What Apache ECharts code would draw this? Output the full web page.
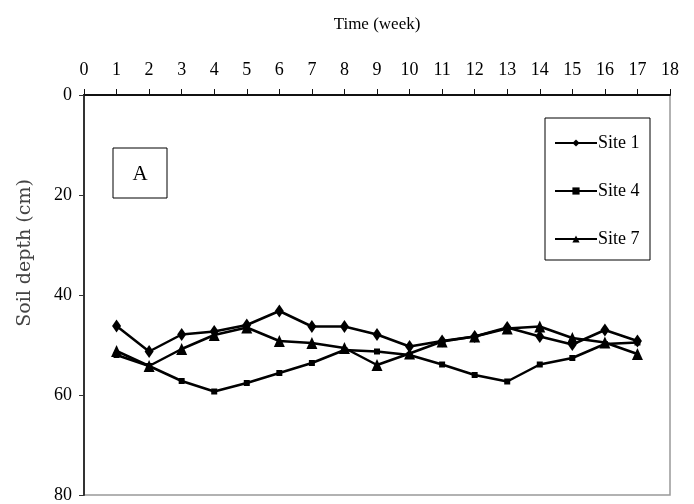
<!DOCTYPE html>
<html>
<head>
<meta charset="utf-8">
<script src="https://cdn.jsdelivr.net/npm/echarts@6/dist/echarts.min.js"></script>
<style>
html,body{margin:0;padding:0;background:#fff;}
#chart{width:694px;height:504px;}
</style>
</head>
<body>
<div id="chart"></div>
<script>
var weeks = [1,2,3,4,5,6,7,8,9,10,11,12,13,14,15,16,17];
var site1 = [46.2,51.3,47.9,47.3,46.0,43.2,46.3,46.3,47.9,50.3,49.2,48.3,46.5,48.3,49.9,47.0,49.2];
var site4 = [52.0,54.2,57.2,59.3,57.6,55.6,53.6,51.0,51.3,52.0,53.9,56.0,57.3,53.9,52.6,49.8,49.5];
var site7 = [51.2,54.2,50.8,48.0,46.5,49.2,49.6,50.6,54.0,51.7,49.3,48.3,46.7,46.3,48.6,49.5,51.8];
var seriesNames = ['Site 1','Site 4','Site 7'];
var xTitle = 'Time (week)';
var yTitle = 'Soil depth (cm)';
var panelLabel = 'A';

function pairs(v){ return weeks.map(function(w,i){ return [w, v[i]]; }); }

var chart = echarts.init(document.getElementById('chart'), null, {renderer:'canvas'});
var serif = '"Liberation Serif", "Times New Roman", serif';
chart.setOption({
  animation:false,
  backgroundColor:'#fff',
  grid:{left:84, right:24, top:95, bottom:4, show:true, borderColor:'#999', borderWidth:1.5},
  xAxis:{
    type:'value', position:'top', min:0, max:18, interval:1,
    name:xTitle, nameLocation:'middle', nameGap:62,
    nameTextStyle:{fontFamily:serif, fontSize:17, color:'#000'},
    axisLine:{show:true, lineStyle:{color:'#111', width:2}},
    axisTick:{show:true, inside:false, length:6, lineStyle:{color:'#111', width:1}},
    axisLabel:{fontFamily:serif, fontSize:18, color:'#000', margin:16},
    splitLine:{show:false}
  },
  yAxis:{
    type:'value', inverse:true, min:0, max:80, interval:20,
    axisLine:{show:true, lineStyle:{color:'#333', width:2}},
    axisTick:{show:true, inside:false, length:5, lineStyle:{color:'#333', width:1}},
    axisLabel:{fontFamily:serif, fontSize:18, color:'#000', margin:12},
    splitLine:{show:false}
  },
  legend:{
    orient:'vertical', left:554, top:134, padding:0,
    itemWidth:42, itemHeight:9, itemGap:30,
    textStyle:{fontFamily:serif, fontSize:18, color:'#000', padding:[0,0,0,-4]},
    data:seriesNames
  },
  graphic:[
    {type:'rect', shape:{x:545, y:118, width:105, height:142}, style:{fill:'none', stroke:'#000', lineWidth:1}, z:-1},
    {type:'rect', shape:{x:113, y:148, width:54, height:50}, style:{fill:'#fff', stroke:'#000', lineWidth:1}},
    {type:'text', x:140, y:174, style:{text:panelLabel, font:'21px "Liberation Serif", serif', fill:'#000', align:'center', verticalAlign:'middle'}},
    {type:'text', x:25, y:253, rotation:Math.PI/2, style:{text:yTitle, font:'19px "DejaVu Serif", serif', fill:'#444', align:'center', verticalAlign:'middle'}}
  ],
  series:[
    {name:seriesNames[0], type:'line', data:pairs(site1), symbol:'diamond', symbolSize:[9,13], color:'#000',
     lineStyle:{color:'#000', width:2.5}, itemStyle:{color:'#000'}},
    {name:seriesNames[1], type:'line', data:pairs(site4), symbol:'rect', symbolSize:6, color:'#000',
     lineStyle:{color:'#000', width:2.5}, itemStyle:{color:'#000'}},
    {name:seriesNames[2], type:'line', data:pairs(site7), symbol:'triangle', symbolSize:[11,12], color:'#000',
     lineStyle:{color:'#000', width:2.5}, itemStyle:{color:'#000'}}
  ]
});
</script>
</body>
</html>
